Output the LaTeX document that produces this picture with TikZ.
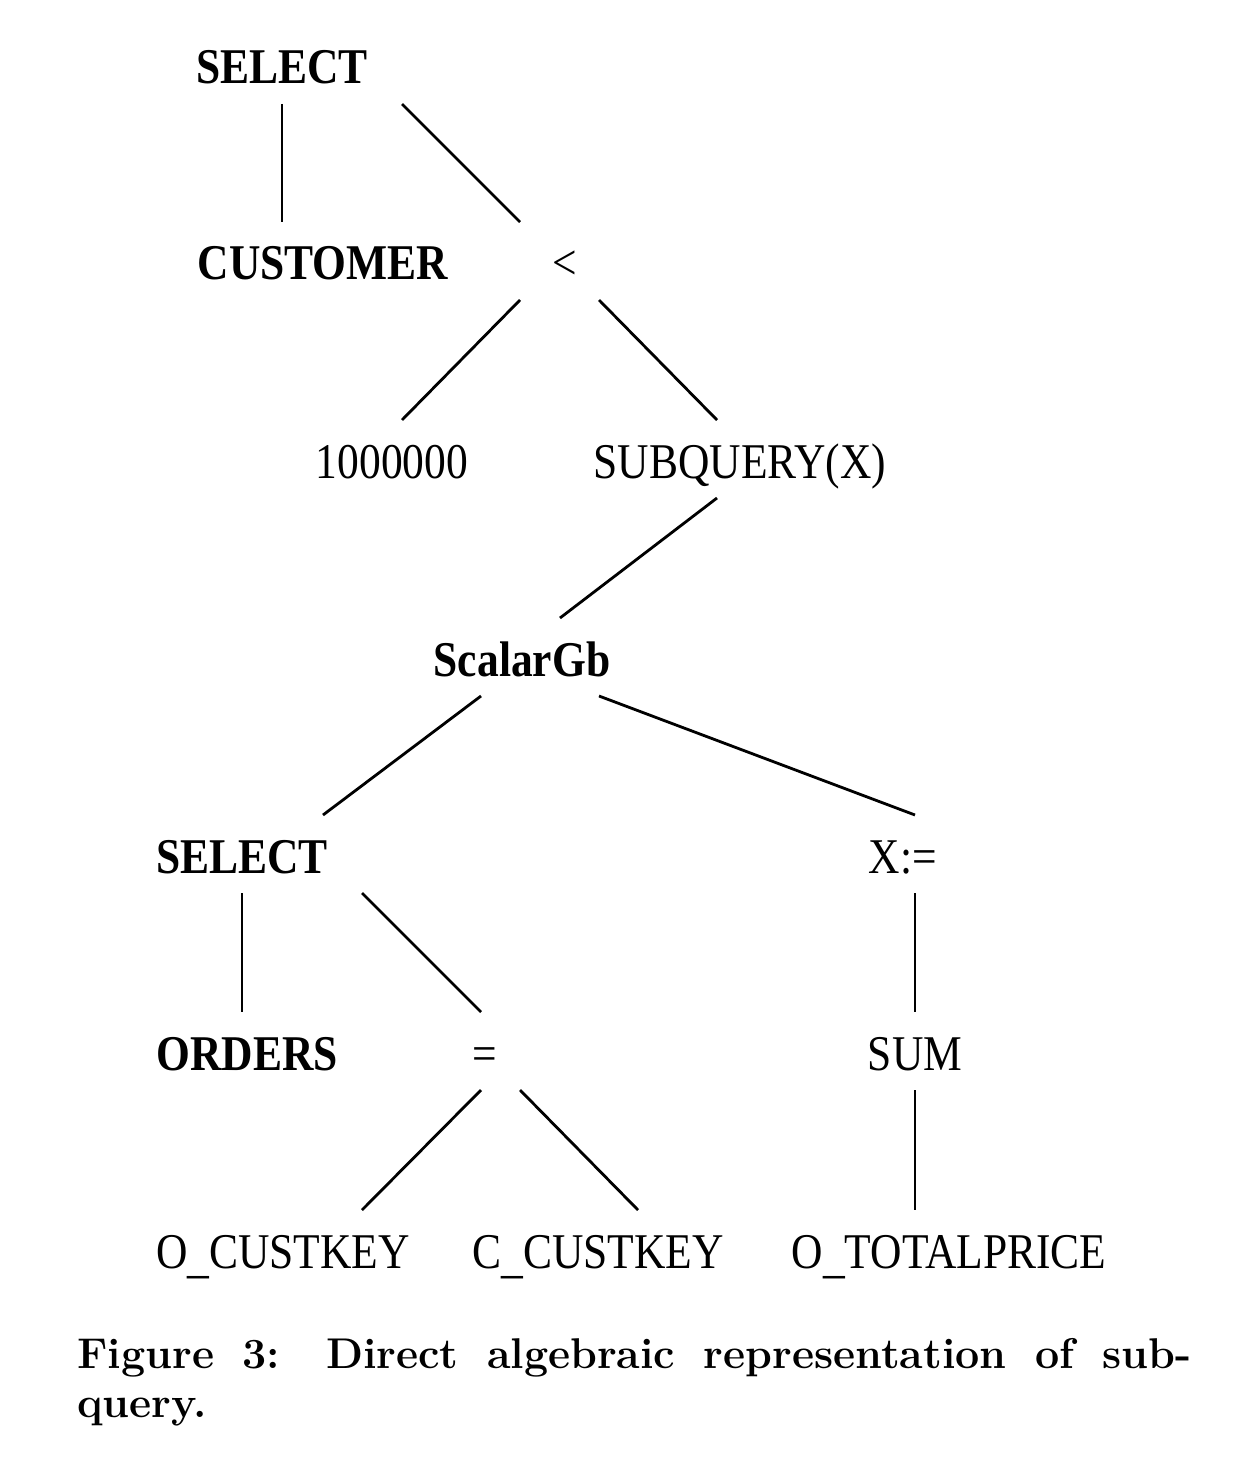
\documentclass[tikz,border=0pt]{standalone}
\usepackage{fontspec}
\newfontfamily\treefont[FakeStretch=0.87]{Liberation Serif}
\newcommand\uscore{\raisebox{-2pt}{\_}}
\tikzset{every path/.style={black,line width=1.4pt},
  lbl/.style={font=\treefont\fontsize{25}{30}\selectfont, anchor=base, inner sep=0pt, outer xsep=0pt, outer ysep=10pt, text height=19pt, text depth=0pt},
  op/.style={lbl,font=\treefont\bfseries\fontsize{25}{30}\selectfont},
  capbox/.style={anchor=base west, inner sep=0pt, text width=557pt, align=justify, font=\fontsize{21.5}{24.5}\selectfont\bfseries}}

\begin{document}
\begin{tikzpicture}[x=0.5pt,y=-0.5pt]
  \useasboundingbox (0,0) rectangle (1238,1476);
  % outer query
  \node[op]  (sel1) at (282,  84) {SELECT};
  \node[op]  (cust) at (323, 280) {CUSTOMER};
  \node[lbl] (lt)   at (565, 280) {<};
  \node[lbl] (num)  at (392, 478) {1000000};
  \node[lbl] (subq) at (740, 478) {SUBQUERY(X)};
  \draw (sel1.south) -- (sel1.south |- cust.north);
  \draw ([xshift=60pt]sel1.south) -- ([xshift=-22.5pt]lt.north);
  \draw ([xshift=-22.5pt]lt.south) -- ([xshift=5pt]num.north);
  \draw ([xshift=17pt]lt.south) -- ([xshift=-11.5pt]subq.north);
  % subquery
  \node[op]  (sgb)  at (522, 676) {ScalarGb};
  \node[op]  (sel2) at (242, 873) {SELECT};
  \node[lbl] (xa)   at (903, 873) {X:=};
  \node[op]  (ord)  at (247,1070) {ORDERS};
  \node[lbl] (eq)   at (485,1070) {=};
  \node[lbl] (sum)  at (915,1070) {SUM};
  \node[lbl] (ock)  at (283,1268) {O\uscore CUSTKEY};
  \node[lbl] (cck)  at (598,1268) {C\uscore CUSTKEY};
  \node[lbl] (otp)  at (949,1268) {O\uscore TOTALPRICE};
  \draw ([xshift=-11.5pt]subq.south) -- ([xshift=19pt]sgb.north);
  \draw ([xshift=-20.5pt]sgb.south) -- ([xshift=40.5pt]sel2.north);
  \draw ([xshift=38.5pt]sgb.south) -- ([xshift=6pt]xa.north);
  \draw (sel2.south) -- (sel2.south |- ord.north);
  \draw ([xshift=60pt]sel2.south) -- ([xshift=-2pt]eq.north);
  \draw (xa.south -| sum.north) -- (sum.north);
  \draw ([xshift=-2pt]eq.south) -- ([xshift=39.5pt]ock.north);
  \draw ([xshift=17.5pt]eq.south) -- ([xshift=20pt]cck.north);
  \draw (sum.south) -- (sum.south |- otp.north);
  % caption
  \node[capbox] (caption) at (76,1368) {Figure 3: Direct algebraic representation of sub-\linebreak query.};
\end{tikzpicture}
\end{document}
